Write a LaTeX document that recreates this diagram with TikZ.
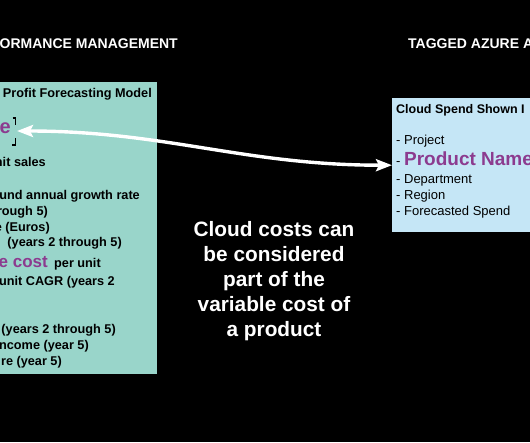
\documentclass[tikz,border=0pt]{standalone}
\usepackage{fontspec}
\setmainfont{Liberation Sans}
\usepackage{tikz}
\usetikzlibrary{arrows.meta,positioning}
\definecolor{modelteal}{HTML}{99D5CA}
\definecolor{spendblue}{HTML}{C5E6F6}
\definecolor{tagpurple}{HTML}{8C3B8F}

\begin{document}
\begin{tikzpicture}[
  x=1pt, y=-1pt,
  head/.style={
    text=white,
    inner sep=0pt,
    font=\fontsize{14}{17}\selectfont\bfseries
  },
  panel/.style={
    inner sep=0pt,
    anchor=north west
  },
  item/.style={
    inner sep=0pt,
    anchor=base east,
    font=\fontsize{12.7}{15}\selectfont\bfseries
  },
  bigitem/.style={
    inner sep=0pt,
    text=tagpurple,
    font=\fontsize{20}{24}\selectfont\bfseries
  },
  spenditem/.style={
    inner sep=0pt,
    anchor=base west,
    font=\fontsize{13}{15.5}\selectfont
  },
  claim/.style={
    text=white,
    align=center,
    inner sep=0pt,
    font=\fontsize{20.8}{25}\selectfont\bfseries
  },
  flow/.style={
    draw=white,
    line width=3.4pt,
    {Stealth[length=16pt,width=12pt,inset=3pt]}-{Stealth[length=16pt,width=12pt,inset=3pt]}
  }
]
\useasboundingbox (0,0) rectangle (530,442);
\fill[black] (0,0) rectangle (530,442);
\clip (0,0) rectangle (530,442);

% headings
\node[head,anchor=base east] (perf) at (178,48) {ORMANCE MANAGEMENT};
\node[head,anchor=base west] (tagged) at (408,48) {TAGGED AZURE A};

% forecasting model panel
\node[panel,fill=modelteal,minimum width=167pt,minimum height=292pt] (model) at (-10,82) {};
\node[item] (title) at (152,97) {Profit Forecasting Model};
\node[bigitem,anchor=base east] (rev) at (11,133) {e};
\draw[line width=1.2pt] (12.5,118) -- (15.5,118) -- (15.5,125);
\draw[line width=1.2pt] (15.5,138) -- (15.5,145) -- (12,145);
\coordinate (revend) at (17,131);
\node[item] (units) at (46,166) {nit sales};
\node[item] (cagr) at (140,199) {und annual growth rate};
\node[item] (cagrb) at (48,215) {rough 5)};
\node[item] (price) at (50,231) {e (Euros)};
\node[item] (priceb) at (122,246) {(years 2 through 5)};
\node[bigitem,anchor=base east,font=\fontsize{17}{20}\selectfont\bfseries] (varcost) at (48,267) {e cost};
\node[item,anchor=base west] (perunit) at (54,267) {per unit};
\node[item] (unitcagr) at (115,285) {unit CAGR (years 2};
\node[item] (margin) at (116,333) {(years 2 through 5)};
\node[item] (income) at (89,349) {ncome (year 5)};
\node[item] (share) at (62,365) {re (year 5)};

% cloud spend panel
\node[panel,fill=spendblue,minimum width=150pt,minimum height=134pt] (spend) at (392,98) {};
\node[spenditem,font=\fontsize{12.5}{15}\selectfont\bfseries] (spendtitle) at (396,113) {Cloud Spend Shown I};
\node[spenditem] (project) at (396,144) {- Project};
\node[spenditem] (product) at (396,165) {- \textcolor{tagpurple}{\fontsize{19}{22}\selectfont\bfseries Product Name}};
\node[spenditem] (dept) at (396,183) {- Department};
\node[spenditem] (region) at (396,199) {- Region};
\node[spenditem] (forecast) at (396,215) {- Forecasted Spend};

% middle note
\node[claim] (note) at (274,281.6) {Cloud costs can\\be considered\\part of the\\variable cost of\\a product};

\draw[flow] (revend) to[out=0,in=180] (spend.west);
\end{tikzpicture}
\end{document}
